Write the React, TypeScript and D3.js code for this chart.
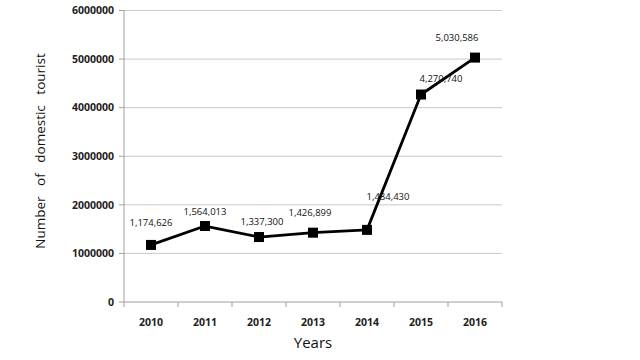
import React from "react";
import * as d3 from "d3";

const years = ["2010", "2011", "2012", "2013", "2014", "2015", "2016"];
const tourists = [1174626, 1564013, 1337300, 1426899, 1484430, 4270740, 5030586];
const yTicks = [0, 1000000, 2000000, 3000000, 4000000, 5000000, 6000000];
// label offsets (dx, dy) relative to each marker
const labelDx = [0, 0, 3, -3, 21, 20, -18];
const labelDy = [-22, -14, -15, -20, -33, -16, -20];

export default function App() {
  const W = 640, H = 360;
  const left = 124, right = 502, top = 10.5, bottom = 302;
  const x = d3.scaleBand<string>().domain(years).range([left, right]);
  const y = d3.scaleLinear().domain([0, 6000000]).range([bottom, top]);
  const font = "'Open Sans', 'Liberation Sans', sans-serif";
  const line = d3
    .line<number>()
    .x((_, i) => (x(years[i]) as number) + x.bandwidth() / 2)
    .y((d) => y(d));
  const fmt = d3.format(",");
  const boundaries = years.map((yr) => x(yr) as number).concat([right]);
  return (
    <svg width={W} height={H} style={{ position: "absolute", left: 0, top: 0, background: "#fff" }}>
      <rect width={W} height={H} fill="#fff" />
      {yTicks.map((t) => (
        <g key={t}>
          {t > 0 && (
            <line x1={left} x2={right} y1={y(t)} y2={y(t)} stroke="#c8c8c8" strokeWidth={1} />
          )}
          <line x1={left - 5} x2={left} y1={y(t)} y2={y(t)} stroke="#a0a0a0" strokeWidth={1} />
          <text
            x={left - 10}
            y={y(t)}
            dy="0.35em"
            textAnchor="end"
            fontFamily={font}
            fontSize={10.5}
            fontWeight="bold"
            fill="#222"
          >
            {t}
          </text>
        </g>
      ))}
      <line x1={left} x2={left} y1={top} y2={bottom} stroke="#a0a0a0" strokeWidth={1} />
      <line x1={left} x2={right} y1={bottom} y2={bottom} stroke="#a0a0a0" strokeWidth={1} />
      {boundaries.map((b, i) => (
        <line key={i} x1={b} x2={b} y1={bottom} y2={bottom + 5} stroke="#a0a0a0" strokeWidth={1} />
      ))}
      {years.map((yr) => (
        <text
          key={yr}
          x={(x(yr) as number) + x.bandwidth() / 2}
          y={322}
          dy="0.35em"
          textAnchor="middle"
          fontFamily={font}
          fontSize={10.5}
          fontWeight="bold"
          fill="#222"
        >
          {yr}
        </text>
      ))}
      <path d={line(tourists) || ""} fill="none" stroke="#000" strokeWidth={2.8} strokeLinejoin="round" />
      {tourists.map((v, i) => {
        const cx = (x(years[i]) as number) + x.bandwidth() / 2;
        const cy = y(v);
        return (
          <g key={i}>
            <rect x={cx - 5} y={cy - 5} width={10} height={10} fill="#000" />
            <text
              x={cx + labelDx[i]}
              y={cy + labelDy[i]}
              dy="0.35em"
              textAnchor="middle"
              fontFamily={font}
              fontSize={9.5}
              fill="#111"
            >
              {fmt(v)}
            </text>
          </g>
        );
      })}
      <text
        x={(left + right) / 2}
        y={343}
        dy="0.35em"
        textAnchor="middle"
        fontFamily={font}
        fontSize={15}
        fill="#111"
      >
        Years
      </text>
      <text
        transform="translate(40,151) rotate(-90)"
        textAnchor="middle"
        dy="0.35em"
        fontFamily={font}
        fontSize={13.5}
        fill="#111"
        wordSpacing={7}
      >
        Number of domestic tourist
      </text>
    </svg>
  );
}
